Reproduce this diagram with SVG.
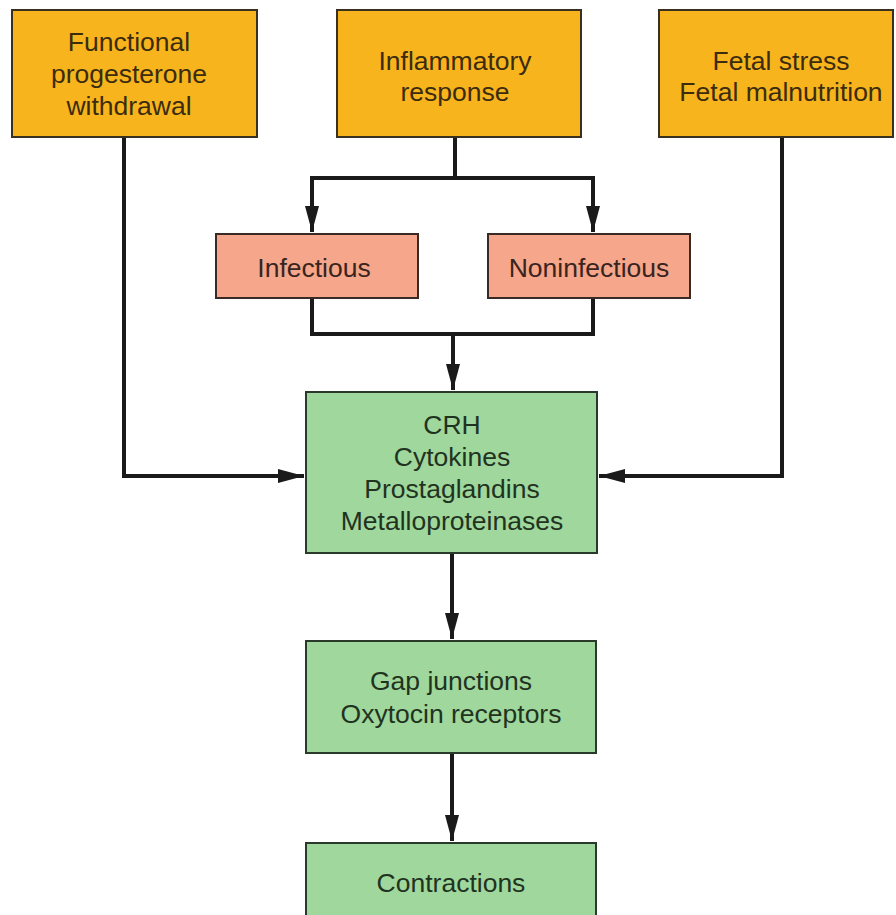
<svg xmlns="http://www.w3.org/2000/svg" width="896" height="915" viewBox="0 0 896 915">
<defs>
<style>
.orange{fill:#F8B41C;stroke:#3a3020;stroke-width:2}
.pink{fill:#F5A68B;stroke:#3a2a25;stroke-width:2}
.green{fill:#9FD79C;stroke:#2a3a2a;stroke-width:2}
.t{font-family:"Liberation Sans",Arial,sans-serif;font-size:26.5px;text-anchor:middle}
.to{fill:#3b2c10}
.tp{fill:#3a2420}
.tg{fill:#1f331f}
.c{fill:none;stroke:#1a1a1a;stroke-width:4}
</style>
<marker id="ah" markerUnits="userSpaceOnUse" markerWidth="28" markerHeight="16" refX="26" refY="8" orient="auto">
<path d="M0,1 L26,8 L0,15 Z" fill="#1a1a1a"/>
</marker>
</defs>
<rect width="896" height="915" fill="#ffffff"/>
<g id="connectors">
<path class="c" d="M455,137 V178"/>
<path class="c" d="M312,178 H593"/>
<path class="c" d="M312,176 V232" marker-end="url(#ah)"/>
<path class="c" d="M593,176 V232" marker-end="url(#ah)"/>
<path class="c" d="M312,298 V334 H593 V298"/>
<path class="c" d="M453,334 V390" marker-end="url(#ah)"/>
<path class="c" d="M124,137 V476 H304" marker-end="url(#ah)"/>
<path class="c" d="M782,137 V476 H599" marker-end="url(#ah)"/>
<path class="c" d="M452,553 V639" marker-end="url(#ah)"/>
<path class="c" d="M452,753 V841" marker-end="url(#ah)"/>
</g>
<g id="n-progesterone">
<rect class="orange" x="12" y="10" width="245" height="127"/>
<text class="t to" x="129" y="51">Functional</text>
<text class="t to" x="129" y="83">progesterone</text>
<text class="t to" x="129" y="115">withdrawal</text>
</g>
<g id="n-inflammatory">
<rect class="orange" x="337" y="10" width="244" height="127"/>
<text class="t to" x="455" y="70">Inflammatory</text>
<text class="t to" x="455" y="101">response</text>
</g>
<g id="n-fetal">
<rect class="orange" x="659" y="10" width="234" height="127"/>
<text class="t to" x="781" y="70">Fetal stress</text>
<text class="t to" x="781" y="101">Fetal malnutrition</text>
</g>
<g id="n-infectious">
<rect class="pink" x="216" y="234" width="202" height="64"/>
<text class="t tp" x="314" y="277">Infectious</text>
</g>
<g id="n-noninfectious">
<rect class="pink" x="488" y="234" width="202" height="64"/>
<text class="t tp" x="589" y="277">Noninfectious</text>
</g>
<g id="n-mediators">
<rect class="green" x="306" y="392" width="291" height="161"/>
<text class="t tg" x="452" y="434">CRH</text>
<text class="t tg" x="452" y="466">Cytokines</text>
<text class="t tg" x="452" y="498">Prostaglandins</text>
<text class="t tg" x="452" y="530">Metalloproteinases</text>
</g>
<g id="n-gap">
<rect class="green" x="306" y="641" width="290" height="112"/>
<text class="t tg" x="451" y="690">Gap junctions</text>
<text class="t tg" x="451" y="723">Oxytocin receptors</text>
</g>
<g id="n-contractions">
<rect class="green" x="306" y="843" width="290" height="90"/>
<text class="t tg" x="451" y="892">Contractions</text>
</g>
</svg>
